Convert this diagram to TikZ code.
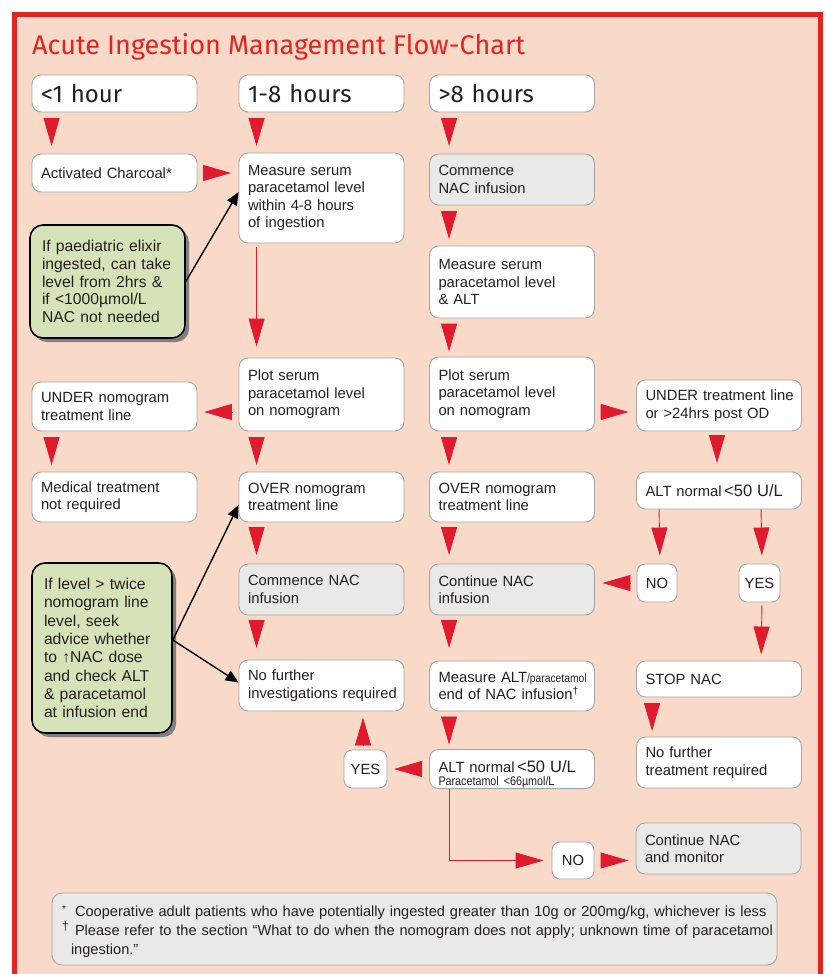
\documentclass[tikz,border=0pt]{standalone}
\usepackage{fontspec}
\setmainfont{Liberation Sans}
\newfontfamily\hfont{Fira Sans}
\newfontfamily\nfont[FakeStretch=0.86]{Liberation Sans}
\usetikzlibrary{arrows.meta,calc,shadows}
\definecolor{bgpeach}{RGB}{249,218,201}
\definecolor{framered}{RGB}{229,36,33}
\definecolor{trired}{RGB}{226,26,46}
\definecolor{bordergray}{RGB}{165,166,168}
\definecolor{fillgray}{RGB}{233,234,232}
\definecolor{notegreen}{RGB}{214,226,184}
\definecolor{txt}{RGB}{35,31,32}
\newcommand\nobrk{\hyphenpenalty=10000\exhyphenpenalty=10000\relax}
\newcommand\bxfont{\fontsize{14.8pt}{17.5pt}\selectfont\nobrk}
\newcommand\smallnarrow{\nfont\fontsize{12pt}{13pt}\selectfont}
\newcommand\paranarrow{\nfont\fontsize{12.5pt}{13pt}\selectfont}
\newcommand\bigalt{\fontsize{16.5pt}{17.5pt}\selectfont}
\begin{document}
\begin{tikzpicture}[x=1pt,y=-1pt,
  bx/.style={draw=bordergray, line width=0.9pt, fill=white, rounded corners=9pt,
    inner xsep=9pt, inner ysep=0pt, text width=147pt, align=left, font=\bxfont,
    text=txt, minimum height=#1},
  bx/.default=50pt,
  gbx/.style={bx=#1, fill=fillgray},
  gbx/.default=51pt,
  hdr/.style={bx=37pt, font=\hfont\fontsize{24pt}{26pt}\selectfont},
  sbx/.style={draw=bordergray, line width=0.9pt, fill=white, rounded corners=8pt,
    inner sep=0pt, minimum width=#1, minimum height=38pt, font=\bxfont, text=txt},
  note/.style={draw=black, line width=1.6pt, fill=notegreen, rounded corners=13pt,
    inner xsep=12pt, inner ysep=0pt, align=left,
    font=\fontsize{15.7pt}{17.6pt}\selectfont\nobrk, text=txt,
    drop shadow={shadow xshift=4pt, shadow yshift=-4pt, fill=black!50, opacity=1}},
  tri/.style={draw=trired, line width=0.9pt, -{Triangle[length=28pt,width=16pt]}},
  bar/.style={draw=black, line width=1.4pt, -{Triangle[length=13pt,width=11pt]}},
]
\clip (0,0) rectangle (825,974);
\useasboundingbox (0,0) rectangle (825,974);
\fill[white] (0,0) rectangle (825,974);
\draw[draw=framered, fill=bgpeach, line width=5pt] (14.5,14.5) rectangle (820,1000);

\node[anchor=base west, text=framered, inner sep=0pt,
  font=\hfont\fontsize{27pt}{27pt}\selectfont] (title) at (32,55)
  {Acute Ingestion Management Flow-Chart};

% headers
\node[hdr] (h1) at (114.5,93.5) {<1 hour};
\node[hdr] (h2) at (321.5,93.5) {1-8 hours};
\node[hdr] (h3) at (512,93.5) {>8 hours};

% boxes
\node[bx=38pt] (ac) at (114.5,173) {Activated Charcoal*};
\node[bx=90pt] (ms) at (321.5,198) {Measure serum\\paracetamol level\\within 4-8 hours\\of ingestion};
\node[gbx=51pt] (cn1) at (512,179.5) {Commence\\NAC infusion};
\node[bx=72pt] (ms3) at (512,282) {Measure serum\\paracetamol level\\\& ALT};
\node[note, text width=131pt, minimum height=113pt] (g1) at (107.5,281.5)
  {If paediatric elixir\\ingested, can take\\level from 2hrs \&\\if <1000µmol/L\\NAC not needed};

\node[bx=73pt] (pl2) at (321.5,394.5) {Plot serum\\paracetamol level\\on nomogram};
\node[bx=49pt] (un1) at (114.5,406.5) {UNDER nomogram\\treatment line};
\node[bx=74pt] (pl3) at (512,394) {Plot serum\\paracetamol level\\on nomogram};
\node[bx=51pt] (un4) at (719,405.5) {UNDER~treatment~line\\or >24hrs post OD};

\node[bx=50pt] (med) at (114.5,497) {Medical treatment\\not required};
\node[bx=50pt] (ov2) at (321.5,497) {OVER nomogram\\treatment line};
\node[bx=50pt] (ov3) at (512,497) {OVER nomogram\\treatment line};
\node[bx=37pt] (alt4) at (719,490.5) {ALT normal\,{\bigalt<50 U/L}};

\node[sbx=40pt] (no4) at (657,583) {NO};
\node[sbx=41pt] (yes4) at (759.5,583) {YES};
\node[gbx=51pt] (cn2) at (321.5,589.5) {Commence NAC\\infusion};
\node[gbx=51pt] (cont3) at (512,589.5) {Continue NAC\\infusion};

\node[note, text width=116pt, minimum height=170pt, font=\fontsize{15.7pt}{18.3pt}\selectfont\nobrk] (g2) at (102,648)
  {If level > twice\\nomogram line\\level, seek\\advice whether\\to ↑NAC dose\\and check ALT\\\& paracetamol\\at infusion end};

\node[bx=36pt] (stop) at (719,679) {STOP NAC};
\node[bx=51pt] (nfi) at (321.5,685.5) {No further\\investigations~required};
\node[bx=50pt] (mea3) at (512,686) {Measure~ALT{\smallnarrow/paracetamol}\\end of NAC infusion\textsuperscript{†}};
\node[bx=51pt] (nft) at (719,762.5) {No further\\treatment required};

\node[sbx=43pt] (yes2) at (365.5,769) {YES};
\node[bx=38pt] (alt3) at (512,769)
  {\lineskiplimit=-20pt\rule{0pt}{23pt}ALT normal\,{\bigalt<50~U/L}\\[-4pt]{\paranarrow Paracetamol <66µmol/L}};

\node[sbx=42pt, minimum height=37pt] (no5) at (573,860.5) {NO};
\node[gbx=51pt] (cnm) at (718.5,848.5) {Continue NAC\\and monitor};

\node[draw=bordergray, line width=0.9pt, fill=fillgray, rounded corners=10pt,
  inner xsep=10pt, inner ysep=0pt, text width=705pt, minimum height=72pt, align=left,
  font=\fontsize{14.6pt}{19pt}\selectfont, text=txt] (foot) at (414.5,929)
  {\mbox{\rule{0pt}{17pt}\makebox[13pt][l]{\raisebox{4pt}{\fontsize{10pt}{10pt}\selectfont *}}Cooperative adult patients who have potentially ingested greater than 10g or 200mg/kg, whichever is less}\\
   \mbox{\makebox[13pt][l]{\raisebox{5pt}{\fontsize{12pt}{12pt}\selectfont †}}Please refer to the section “What to do when the nomogram does not apply; unknown time of paracetamol}\\
   \mbox{\hspace*{9pt}ingestion.”}};

% red triangle connectors: vertical
\draw[tri, shorten <=6pt, shorten >=7.5pt] ([xshift=20pt]h1.south west) -- ([xshift=20pt]ac.north west);
\draw[tri, shorten <=6pt, shorten >=6.5pt] ([xshift=18pt]h2.south west) -- ([xshift=18pt]ms.north west);
\draw[tri, shorten <=6pt, shorten >=7.5pt] ([xshift=20pt]h3.south west) -- ([xshift=20pt]cn1.north west);
\draw[tri, shorten <=6pt, shorten >=6.5pt] ([xshift=20pt]cn1.south west) -- ([xshift=20pt]ms3.north west);
\draw[tri, shorten <=4pt, shorten >=11pt] ([xshift=18pt]ms.south west) -- ([xshift=18pt]pl2.north west);
\draw[tri, shorten <=5.5pt, shorten >=5pt] ([xshift=20pt]ms3.south west) -- ([xshift=20pt]pl3.north west);
\draw[tri, shorten <=6pt, shorten >=6.5pt] ([xshift=20pt]un1.south west) -- ([xshift=20pt]med.north west);
\draw[tri, shorten <=6pt, shorten >=6.5pt] ([xshift=18pt]pl2.south west) -- ([xshift=18pt]ov2.north west);
\draw[tri, shorten <=6pt, shorten >=6.5pt] ([xshift=20pt]pl3.south west) -- ([xshift=20pt]ov3.north west);
\draw[tri, shorten <=4pt, shorten >=8.5pt] ([xshift=-2pt]un4.south) -- ([xshift=-2pt]alt4.north);
\draw[tri, shorten <=5pt, shorten >=8.5pt] ([xshift=18pt]ov2.south west) -- ([xshift=18pt]cn2.north west);
\draw[tri, shorten <=5pt, shorten >=8.5pt] ([xshift=20pt]ov3.south west) -- ([xshift=20pt]cont3.north west);
\draw[tri, shorten >=8pt] ([xshift=23pt]alt4.south west) -- ([xshift=3pt]no4.north);
\draw[tri, shorten >=8pt] ([xshift=125pt]alt4.south west) -- ([xshift=2.5pt]yes4.north);
\draw[tri, shorten <=5pt, shorten >=11.5pt] ([xshift=18pt]cn2.south west) -- ([xshift=18pt]nfi.north west);
\draw[tri, shorten <=5pt, shorten >=12.5pt] ([xshift=20pt]cont3.south west) -- ([xshift=20pt]mea3.north west);
\draw[tri, shorten <=3pt, shorten >=6pt] ([xshift=2.5pt]yes4.south) -- ([xshift=125pt]stop.north west);
\draw[tri, shorten <=6pt, shorten >=5.5pt] ([xshift=16pt]stop.south west) -- ([xshift=16pt]nft.north west);
\draw[tri, shorten <=6pt, shorten >=4.5pt] ([xshift=20pt]mea3.south west) -- ([xshift=20pt]alt3.north west);
\draw[tri, shorten <=5pt, shorten >=6pt] ([xshift=-2.5pt]yes2.north) -- ([xshift=41.5pt]nfi.south);
\draw[tri, shorten >=8pt] ([xshift=-63pt]alt3.south) |- (no5.west);

% red triangle connectors: horizontal
\draw[tri, shorten <=6pt, shorten >=7.5pt] (ac.east) -- (ac.east -| ms.west);
\draw[tri, shorten <=7pt, shorten >=6.5pt] ($(pl2.west)+(0,17.5)$) -- ($(un1.east)+(0,5.5)$);
\draw[tri, shorten <=7pt, shorten >=7.5pt] ($(pl3.east)+(0,18)$) -- ($(un4.west)+(0,6.5)$);
\draw[tri, shorten <=7pt, shorten >=7.5pt] (no4.west) -- (no4.west -| cont3.east);
\draw[tri, shorten <=8pt, shorten >=6.5pt] (alt3.west) -- (alt3.west -| yes2.east);
\draw[tri, shorten <=7pt, shorten >=7pt] (no5.east) -- (no5.east -| cnm.west);

% black note arrows
\draw[bar] (g1.east) -- ([yshift=6pt]ms.west);
\draw[bar] ([yshift=8pt]g2.east) -- ([yshift=-8pt]ov2.west);
\draw[bar] ([yshift=8pt]g2.east) -- ([yshift=3pt]nfi.west);
\end{tikzpicture}
\end{document}
